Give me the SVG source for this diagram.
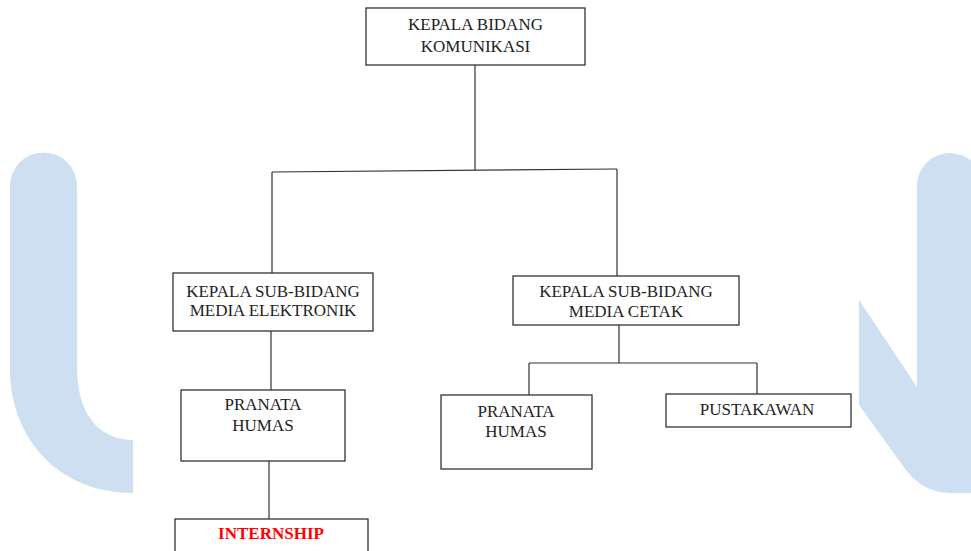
<svg xmlns="http://www.w3.org/2000/svg" width="971" height="551" viewBox="0 0 971 551">
<style>
.box{fill:#fff;stroke:#333;stroke-width:1.3}
.t{font-family:"Liberation Serif","Times New Roman",serif;font-size:17px;fill:#222;text-anchor:middle}
.red{fill:#ff0000;font-weight:bold}
.wm{fill:#cddff0}
.ln{stroke:#333;stroke-width:1.2;fill:none}
</style>
<rect width="971" height="551" fill="#fff"/>
<g id="watermark">
<path class="wm" d="M10,186 A33.5,33.5 0 0 1 77,186 L77,368 C77,415 100,440 133,440 L133,493 C60,493 10,440 10,368 Z"/>
<path class="wm" d="M917,186 A33,33 0 0 1 983,186 L983,493 L952,493 C930,493 915,483 903,466 L859,405 L859,300 L917,387 Z"/>
</g>
<g id="connectors">
<path class="ln" d="M475,65 V170"/>
<path class="ln" d="M272,172 L617,169"/>
<path class="ln" d="M272,172 V273"/>
<path class="ln" d="M617,169 V276"/>
<path class="ln" d="M271,331 V390"/>
<path class="ln" d="M269,461 V519"/>
<path class="ln" d="M619,325 V363 M529,363 H757 M529,363 V395 M757,363 V394"/>
</g>
<g id="kepala-bidang">
<rect class="box" x="366" y="8" width="219" height="57"/>
<text class="t" x="475.5" y="30">KEPALA BIDANG</text>
<text class="t" x="475.5" y="52">KOMUNIKASI</text>
</g>
<g id="sub-elektronik">
<rect class="box" x="173" y="273" width="200" height="58"/>
<text class="t" x="273" y="297">KEPALA SUB-BIDANG</text>
<text class="t" x="273" y="316">MEDIA ELEKTRONIK</text>
</g>
<g id="sub-cetak">
<rect class="box" x="513" y="276" width="226" height="49"/>
<text class="t" x="626" y="297">KEPALA SUB-BIDANG</text>
<text class="t" x="626" y="317">MEDIA CETAK</text>
</g>
<g id="pranata-left">
<rect class="box" x="181" y="390" width="164" height="71"/>
<text class="t" x="263" y="410">PRANATA</text>
<text class="t" x="263" y="431">HUMAS</text>
</g>
<g id="pranata-right">
<rect class="box" x="441" y="395" width="151" height="74"/>
<text class="t" x="516" y="417">PRANATA</text>
<text class="t" x="516" y="437">HUMAS</text>
</g>
<g id="pustakawan">
<rect class="box" x="666" y="394" width="185" height="33"/>
<text class="t" x="757" y="415">PUSTAKAWAN</text>
</g>
<g id="internship">
<rect class="box" x="175" y="519" width="193" height="40"/>
<text class="t red" x="271" y="539">INTERNSHIP</text>
</g>
</svg>
